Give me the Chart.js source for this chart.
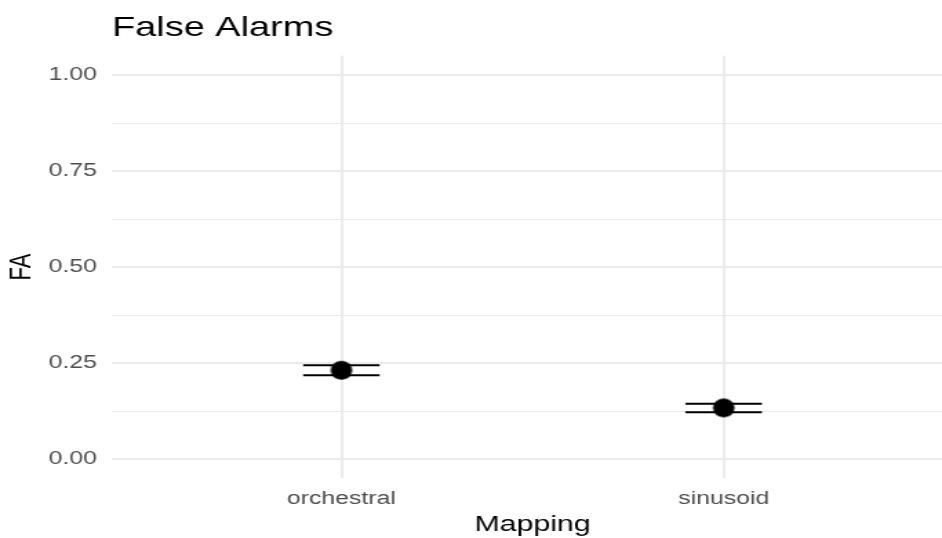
<!DOCTYPE html>
<html>
<head>
<meta charset="utf-8">
<script src="https://cdn.jsdelivr.net/npm/chart.js@4"></script>
<style>
  body { margin: 0; background: #fff; overflow: hidden; }
  /* the reference is a horizontally stretched ggplot export, cropped on the right */
  #wrap { width: 691px; height: 538px; transform: scaleX(1.3792); transform-origin: 0 0; }
</style>
</head>
<body>
<div id="wrap"><canvas id="fa"></canvas></div>
<script>
var categories = ['orchestral', 'sinusoid'];
var faMean = [0.231, 0.133];
var faUpper = [0.244, 0.144];
var faLower = [0.218, 0.122];
var yTicks = [0, 0.25, 0.5, 0.75, 1];

var font = "'Liberation Sans', Arial, sans-serif";
var halfWidth = 0.1;

// filled ellipse so the point comes out round-ish after the stretch
function dot() {
    var c = document.createElement('canvas');
    c.width = 18; c.height = 21;
    var g = c.getContext('2d');
    g.fillStyle = '#000';
    g.beginPath();
    g.ellipse(9, 10.5, 7.8, 9.6, 0, 0, Math.PI * 2);
    g.fill();
    return c;
}

var datasets = [];
categories.forEach(function (c, i) {
    var x = i + 1;
    datasets.push({
        type: 'line', data: [{x: x - halfWidth, y: faUpper[i]}, {x: x + halfWidth, y: faUpper[i]}],
        borderColor: '#000', borderWidth: 2, pointRadius: 0
    });
    datasets.push({
        type: 'line', data: [{x: x - halfWidth, y: faLower[i]}, {x: x + halfWidth, y: faLower[i]}],
        borderColor: '#000', borderWidth: 2, pointRadius: 0
    });
    datasets.push({
        type: 'line', data: [{x: x, y: faLower[i]}, {x: x, y: faUpper[i]}],
        borderColor: '#000', borderWidth: 2, pointRadius: 0
    });
});
datasets.push({
    type: 'scatter',
    data: categories.map(function (c, i) { return {x: i + 1, y: faMean[i]}; }),
    pointStyle: dot(),
    backgroundColor: '#000',
    borderColor: '#000'
});

// minor grid lines halfway between the labelled ticks
var gridTicks = [];
yTicks.forEach(function (v, i) {
    gridTicks.push(v);
    if (i < yTicks.length - 1) gridTicks.push((v + yTicks[i + 1]) / 2);
});
gridTicks.sort(function (a, b) { return a - b; });

new Chart(document.getElementById('fa').getContext('2d'), {
    type: 'scatter',
    data: { datasets: datasets },
    options: {
        responsive: true,
        maintainAspectRatio: false,
        animation: false,
        layout: { padding: 0, autoPadding: false },
        plugins: {
            legend: { display: false },
            tooltip: { enabled: false },
            title: {
                display: true,
                text: 'False Alarms',
                align: 'start',
                fullSize: false,
                color: '#000',
                font: { family: font, size: 27.5, weight: 'normal' },
                padding: { top: 11.5, bottom: 11.3 }
            }
        },
        scales: {
            x: {
                type: 'linear',
                min: 0.4,
                max: 2.6,
                afterBuildTicks: function (scale) {
                    scale.ticks = categories.map(function (c, i) { return {value: i + 1}; });
                },
                afterFit: function (scale) {
                    scale.height = 59.8;
                    scale.paddingLeft = 0;
                    scale.paddingRight = 0;
                },
                ticks: {
                    autoSkip: false,
                    padding: 10,
                    color: '#4D4D4D',
                    font: { family: font, size: 18 },
                    callback: function (v) { return categories[v - 1]; }
                },
                grid: { color: '#EBEBEB', lineWidth: 2, drawTicks: false },
                border: { display: false },
                title: {
                    display: true, text: 'Mapping', color: '#000',
                    font: { family: font, size: 22 },
                    padding: { top: 2, bottom: 0 }
                }
            },
            y: {
                min: -0.05,
                max: 1.05,
                afterBuildTicks: function (scale) {
                    scale.ticks = gridTicks.map(function (v) { return {value: v}; });
                },
                afterFit: function (scale) {
                    scale.width = 81.2;
                    scale.paddingTop = 0;
                    scale.paddingBottom = 0;
                },
                ticks: {
                    autoSkip: false,
                    padding: 11,
                    color: '#4D4D4D',
                    font: { family: font, size: 18 },
                    callback: function (v) {
                        return yTicks.indexOf(v) >= 0 ? v.toFixed(2) : '';
                    }
                },
                grid: {
                    color: '#EBEBEB',
                    drawTicks: false,
                    lineWidth: function (ctx) {
                        return ctx.tick && yTicks.indexOf(ctx.tick.value) >= 0 ? 2 : 1;
                    }
                },
                border: { display: false },
                title: {
                    display: true, text: 'FA', color: '#000',
                    font: { family: font, size: 22 },
                    padding: { top: 3, bottom: 0 }
                }
            }
        }
    }
});
</script>
</body>
</html>
